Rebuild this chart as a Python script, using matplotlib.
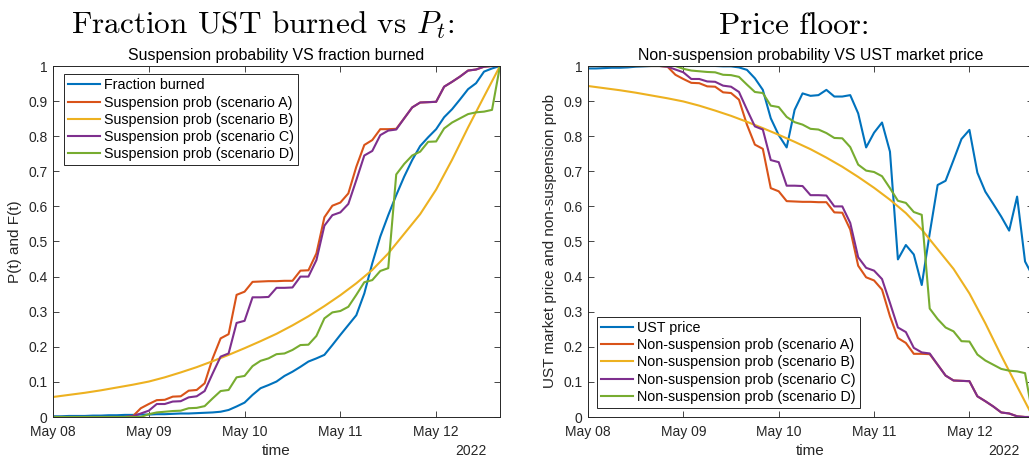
import matplotlib
matplotlib.use("Agg")
import matplotlib.pyplot as plt
import matplotlib.dates as mdates
import numpy as np

plt.rcParams['font.family'] = ['Liberation Sans', 'DejaVu Sans']
plt.rcParams['mathtext.fontset'] = 'cm'

# hours since 2022-05-08 00:00, one sample every 2 h
hours = np.arange(0, 113, 2)
hours_b = np.arange(0, 113, 4)

fraction_burned = [0.002, 0.002, 0.003, 0.003, 0.003, 0.004, 0.004, 0.005,
                   0.005, 0.006, 0.006, 0.007, 0.007, 0.008, 0.008, 0.009,
                   0.010, 0.010, 0.011, 0.012, 0.013, 0.015, 0.020, 0.030,
                   0.041, 0.063, 0.082, 0.091, 0.101, 0.117, 0.129, 0.143,
                   0.158, 0.167, 0.177, 0.205, 0.234, 0.262, 0.290, 0.352,
                   0.438, 0.514, 0.575, 0.632, 0.685, 0.732, 0.772, 0.797,
                   0.820, 0.854, 0.877, 0.905, 0.934, 0.951, 0.984, 0.993,
                   1.0]
susp_A = [0, 0, 0, 0, 0, 0, 0, 0,
          0, 0, 0.002, 0.025, 0.037, 0.048, 0.049, 0.058,
          0.059, 0.075, 0.077, 0.096, 0.167, 0.224, 0.236, 0.348,
          0.357, 0.385, 0.386, 0.387, 0.387, 0.388, 0.388, 0.417,
          0.418, 0.466, 0.569, 0.602, 0.611, 0.637, 0.713, 0.775,
          0.789, 0.820, 0.820, 0.821, 0.851, 0.882, 0.896, 0.897,
          0.898, 0.941, 0.955, 0.970, 0.987, 0.990, 0.998, 1.0,
          1.0]
susp_B = [0.057, 0.063, 0.069, 0.076, 0.084, 0.092, 0.101, 0.113, 0.127, 0.142,
          0.159, 0.177, 0.196, 0.216, 0.237, 0.261, 0.287, 0.316, 0.347, 0.381,
          0.419, 0.466, 0.522, 0.578, 0.648, 0.733, 0.825, 0.913, 1.0]
susp_C = [0, 0, 0, 0, 0, 0, 0, 0,
          0, 0, 0.002, 0.010, 0.018, 0.037, 0.037, 0.044,
          0.045, 0.056, 0.059, 0.074, 0.124, 0.172, 0.181, 0.268,
          0.274, 0.341, 0.341, 0.342, 0.368, 0.368, 0.369, 0.400,
          0.400, 0.447, 0.545, 0.575, 0.583, 0.607, 0.675, 0.745,
          0.758, 0.803, 0.816, 0.819, 0.851, 0.882, 0.896, 0.897,
          0.898, 0.941, 0.955, 0.970, 0.987, 0.990, 0.998, 1.0,
          1.0]
susp_D = [0, 0, 0, 0, 0, 0, 0, 0,
          0, 0, 0, 0, 0.008, 0.013, 0.015, 0.017,
          0.018, 0.025, 0.026, 0.031, 0.053, 0.074, 0.077, 0.113,
          0.117, 0.145, 0.160, 0.167, 0.179, 0.181, 0.191, 0.205,
          0.206, 0.231, 0.281, 0.298, 0.302, 0.314, 0.348, 0.384,
          0.390, 0.416, 0.424, 0.691, 0.721, 0.745, 0.756, 0.784,
          0.785, 0.822, 0.839, 0.851, 0.863, 0.868, 0.870, 0.875,
          1.0]

ust_price = [0.993, 0.993, 0.994, 0.995, 0.995, 0.996, 0.998, 0.999,
             1.0, 1.0, 1.0, 1.0, 1.0, 1.0, 1.0, 1.0,
             1.0, 0.999, 0.999, 0.996, 0.989, 0.965, 0.932, 0.851,
             0.803, 0.768, 0.875, 0.922, 0.915, 0.917, 0.932, 0.913,
             0.913, 0.917, 0.865, 0.768, 0.810, 0.839, 0.756, 0.449,
             0.490, 0.463, 0.376, 0.523, 0.661, 0.673, 0.732, 0.792,
             0.818, 0.696, 0.642, 0.607, 0.571, 0.531, 0.628, 0.443,
             0.400]
nonsusp_A = [1, 1, 1, 1, 1, 1, 1, 1,
             1, 1, 0.998, 0.975, 0.963, 0.952, 0.951, 0.942,
             0.941, 0.925, 0.923, 0.904, 0.833, 0.776, 0.764, 0.652,
             0.643, 0.615, 0.614, 0.613, 0.613, 0.612, 0.612, 0.583,
             0.582, 0.534, 0.431, 0.398, 0.389, 0.363, 0.287, 0.225,
             0.211, 0.180, 0.180, 0.179, 0.149, 0.118, 0.104, 0.103,
             0.102, 0.059, 0.045, 0.030, 0.013, 0.010, 0.002, 0.0,
             0.0]
nonsusp_B = [0.943, 0.937, 0.931, 0.924, 0.916, 0.908, 0.899, 0.887, 0.873, 0.858,
             0.841, 0.823, 0.804, 0.784, 0.763, 0.739, 0.713, 0.684, 0.653, 0.619,
             0.581, 0.534, 0.478, 0.422, 0.352, 0.267, 0.175, 0.087, 0.0]
nonsusp_C = [1, 1, 1, 1, 1, 1, 1, 1,
             1, 1, 0.998, 0.990, 0.982, 0.963, 0.963, 0.956,
             0.955, 0.944, 0.941, 0.926, 0.876, 0.828, 0.819, 0.732,
             0.726, 0.659, 0.659, 0.658, 0.632, 0.632, 0.631, 0.600,
             0.600, 0.553, 0.455, 0.425, 0.417, 0.393, 0.325, 0.255,
             0.242, 0.197, 0.184, 0.181, 0.149, 0.118, 0.104, 0.103,
             0.102, 0.059, 0.045, 0.030, 0.013, 0.010, 0.002, 0.0,
             0.0]
nonsusp_D = [1, 1, 1, 1, 1, 1, 1, 1,
             1, 1, 1, 1, 0.992, 0.987, 0.985, 0.983,
             0.982, 0.975, 0.974, 0.969, 0.947, 0.926, 0.923, 0.887,
             0.883, 0.855, 0.840, 0.833, 0.821, 0.819, 0.809, 0.795,
             0.794, 0.769, 0.719, 0.702, 0.698, 0.686, 0.652, 0.616,
             0.610, 0.584, 0.576, 0.309, 0.279, 0.255, 0.244, 0.216,
             0.215, 0.178, 0.161, 0.149, 0.137, 0.132, 0.130, 0.125,
             0.0]

left_labels = ['Fraction burned', 'Suspension prob (scenario A)', 'Suspension prob (scenario B)',
               'Suspension prob (scenario C)', 'Suspension prob (scenario D)']
right_labels = ['UST price', 'Non-suspension prob (scenario A)', 'Non-suspension prob (scenario B)',
                'Non-suspension prob (scenario C)', 'Non-suspension prob (scenario D)']
colors = ['#0072BD', '#D95319', '#EDB120', '#7E2F8E', '#77AC30']

start = np.datetime64('2022-05-08T00:00')
t = start + hours.astype('timedelta64[h]')
t_b = start + hours_b.astype('timedelta64[h]')
gray = '#262626'

W, H = 1029, 461
fig = plt.figure(figsize=(W / 100, H / 100), dpi=100)
ax1 = fig.add_axes([53 / W, 44 / H, 447 / W, 351 / H])
ax2 = fig.add_axes([588 / W, 44 / H, 445 / W, 351 / H])

left_series = [(t, fraction_burned), (t, susp_A), (t_b, susp_B), (t, susp_C), (t, susp_D)]
right_series = [(t, ust_price), (t, nonsusp_A), (t_b, nonsusp_B), (t, nonsusp_C), (t, nonsusp_D)]

for (x, y), lab, c in zip(left_series, left_labels, colors):
    ax1.plot(x, y, color=c, lw=1.5, label=lab)
for (x, y), lab, c in zip(right_series, right_labels, colors):
    ax2.plot(x, y, color=c, lw=1.5, label=lab)

for ax in (ax1, ax2):
    ax.set_xlim(start, start + np.timedelta64(112, 'h'))
    ax.set_ylim(0, 1)
    ax.set_yticks(np.arange(0, 1.01, 0.1))
    ax.yaxis.set_major_formatter(matplotlib.ticker.FormatStrFormatter('%g'))
    ax.xaxis.set_major_locator(mdates.DayLocator())
    ax.xaxis.set_major_formatter(mdates.DateFormatter('%b %d'))
    ax.tick_params(direction='in', top=True, right=True, length=4, width=0.6,
                   colors=gray, labelsize=10, pad=4)
    ax.tick_params(axis='x', pad=6)
    for s in ax.spines.values():
        s.set_color(gray)
        s.set_linewidth(0.7)
    ax.set_xlabel('time', fontsize=11, color=gray)
    ax.xaxis.set_label_coords(0.5, -0.077)
    ax.text(0.971, -0.077, '2022', transform=ax.transAxes, ha='right', va='top',
            fontsize=10, color=gray)

ax1.set_title('Suspension probability VS fraction burned', fontsize=11.4, pad=4)
ax2.set_title('Non-suspension probability VS UST market price', fontsize=11.4, pad=4)
ax1.set_ylabel('P(t) and F(t)', fontsize=11, color=gray)
ax2.set_ylabel('UST market price and non-suspension prob', fontsize=11, color=gray)
ax1.yaxis.set_label_coords(-0.069, 0.5)
ax2.yaxis.set_label_coords(-0.070, 0.5)

leg_kw = dict(fancybox=False, edgecolor=gray, framealpha=1, fontsize=10.3,
              handlelength=2.2, handletextpad=0.3, labelspacing=0.22,
              borderpad=0.3, borderaxespad=0)
leg1 = ax1.legend(loc='upper left', bbox_to_anchor=(0.0246, 0.977), **leg_kw)
leg2 = ax2.legend(loc='lower left', bbox_to_anchor=(0.0202, 0.0256), **leg_kw)
for leg in (leg1, leg2):
    leg.get_frame().set_linewidth(0.7)

fig.text(263 / W, 1 - 34 / H, 'Fraction UST burned vs $P_t$:', ha='center', va='baseline',
         fontsize=22.5, family='cmr10')
fig.text(794 / W, 1 - 34 / H, 'Price floor:', ha='center', va='baseline',
         fontsize=22.5, family='cmr10')

fig.savefig('out.png', dpi=100)
